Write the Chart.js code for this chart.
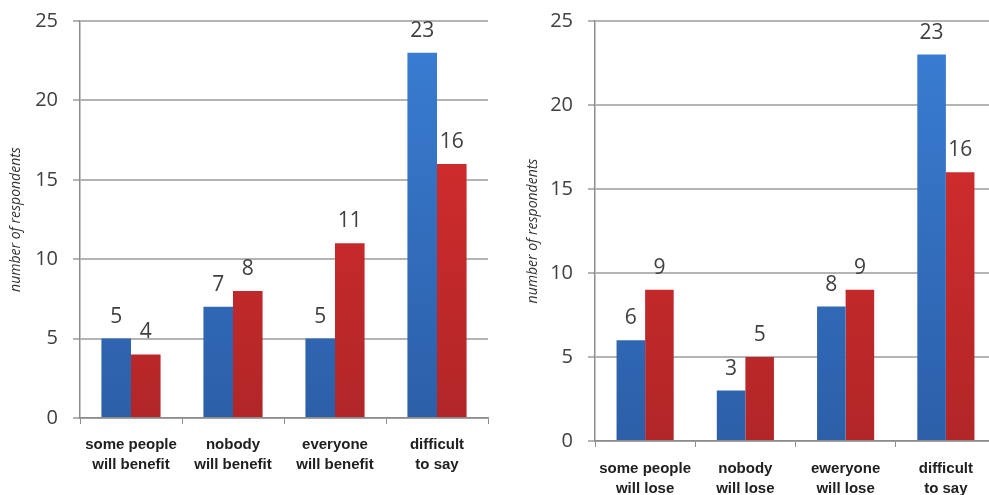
<!DOCTYPE html>
<html>
<head>
<meta charset="utf-8">
<script src="https://cdn.jsdelivr.net/npm/chart.js@4/dist/chart.umd.min.js"></script>
<style>
  html, body { margin: 0; padding: 0; background: #fff; overflow: hidden; }
  body { width: 989px; height: 495px; position: relative; }
  .panel { position: absolute; top: 0; height: 495px; width: 500px; }
  #p1 { left: 0; }
  #p2 { left: 500px; }
</style>
</head>
<body>
<div class="panel" id="p1"><canvas id="benefit"></canvas></div>
<div class="panel" id="p2"><canvas id="lose"></canvas></div>
<script>
// Answers to "who will benefit?"
const benefitCategories = [
  ['some people', 'will benefit'],
  ['nobody', 'will benefit'],
  ['everyone', 'will benefit'],
  ['difficult', 'to say']
];
const benefitBlue = [5, 7, 5, 23];
const benefitRed = [4, 8, 11, 16];

// Answers to "who will lose?"
const loseCategories = [
  ['some people', 'will lose'],
  ['nobody', 'will lose'],
  ['eweryone', 'will lose'],
  ['difficult', 'to say']
];
const loseBlue = [6, 3, 8, 23];
const loseRed = [9, 5, 9, 16];

const yTicks = [0, 5, 10, 15, 20, 25];
const yTitle = 'number of respondents';

const TEXT = '#404040';
const GRID = '#b4b4b4';
const AXIS = '#8c8c8c';

function shade(top, bottom) {
  return (ctx) => {
    const chart = ctx.chart;
    const a = chart.chartArea;
    if (!a) return top;
    const g = chart.ctx.createLinearGradient(0, a.top, 0, a.bottom);
    g.addColorStop(0, top);
    g.addColorStop(1, bottom);
    return g;
  };
}

// Writes each bar's value just above it
const valueLabels = {
  id: 'valueLabels',
  afterDatasetsDraw(chart) {
    const c = chart.ctx;
    c.save();
    c.font = '21px "Open Sans"';
    c.fillStyle = TEXT;
    c.textAlign = 'center';
    c.textBaseline = 'alphabetic';
    chart.data.datasets.forEach((ds, i) => {
      chart.getDatasetMeta(i).data.forEach((bar, j) => {
        c.fillText(String(ds.data[j]), bar.x, bar.y - 16);
      });
    });
    c.restore();
  }
};

function makeChart(id, labels, blue, red, geo) {
  return new Chart(document.getElementById(id), {
    type: 'bar',
    data: {
      labels: labels,
      datasets: [
        { data: blue, backgroundColor: shade('#3a7ed4', '#2c5fa8'), borderWidth: 0,
          categoryPercentage: geo.cat, barPercentage: 1.0 },
        { data: red, backgroundColor: shade('#dd2e2e', '#b22628'), borderWidth: 0,
          categoryPercentage: geo.cat, barPercentage: 1.0 }
      ]
    },
    options: {
      responsive: true,
      maintainAspectRatio: false,
      animation: false,
      events: [],
      layout: { padding: { left: geo.padLeft, right: geo.padRight, top: geo.padTop, bottom: 0 } },
      plugins: { legend: { display: false }, tooltip: { enabled: false } },
      scales: {
        x: {
          grid: { display: true, drawOnChartArea: false, drawTicks: true, tickLength: 6,
                  color: AXIS, tickColor: AXIS, offset: true },
          border: { display: true, color: AXIS, width: 1.5 },
          ticks: { color: '#202020', padding: geo.xPad, maxRotation: 0, autoSkip: false,
                   font: { family: '"Liberation Sans", Arial, sans-serif', size: 15, weight: 'bold', lineHeight: 1.33 } },
          afterFit(scale) { scale.height = geo.xHeight; }
        },
        y: {
          min: 0, max: 25,
          afterBuildTicks(scale) { scale.ticks = yTicks.map(v => ({ value: v })); },
          grid: { color: GRID, lineWidth: 2, tickLength: 7, tickColor: GRID, drawTicks: true },
          border: { display: true, color: AXIS, width: 1.5 },
          ticks: { color: TEXT, padding: 15, font: { family: '"Open Sans"', size: 20 } },
          title: { display: true, text: yTitle, color: '#303030',
                   font: { family: '"Open Sans"', size: 14, style: 'italic' },
                   padding: { top: 8, bottom: 0 } },
          afterFit(scale) {
            scale.width = geo.yWidth;
            scale.paddingTop = 0;
            scale.paddingBottom = 0;
          }
        }
      }
    },
    plugins: [valueLabels]
  });
}

makeChart('benefit', benefitCategories, benefitBlue, benefitRed,
  { cat: 0.58, padLeft: 0, padRight: 12, padTop: 21, yWidth: 80, xHeight: 77, xPad: 11 });
makeChart('lose', loseCategories, loseBlue, loseRed,
  { cat: 0.57, padLeft: 17, padRight: 4, padTop: 21, yWidth: 78, xHeight: 54, xPad: 12 });
</script>
</body>
</html>
